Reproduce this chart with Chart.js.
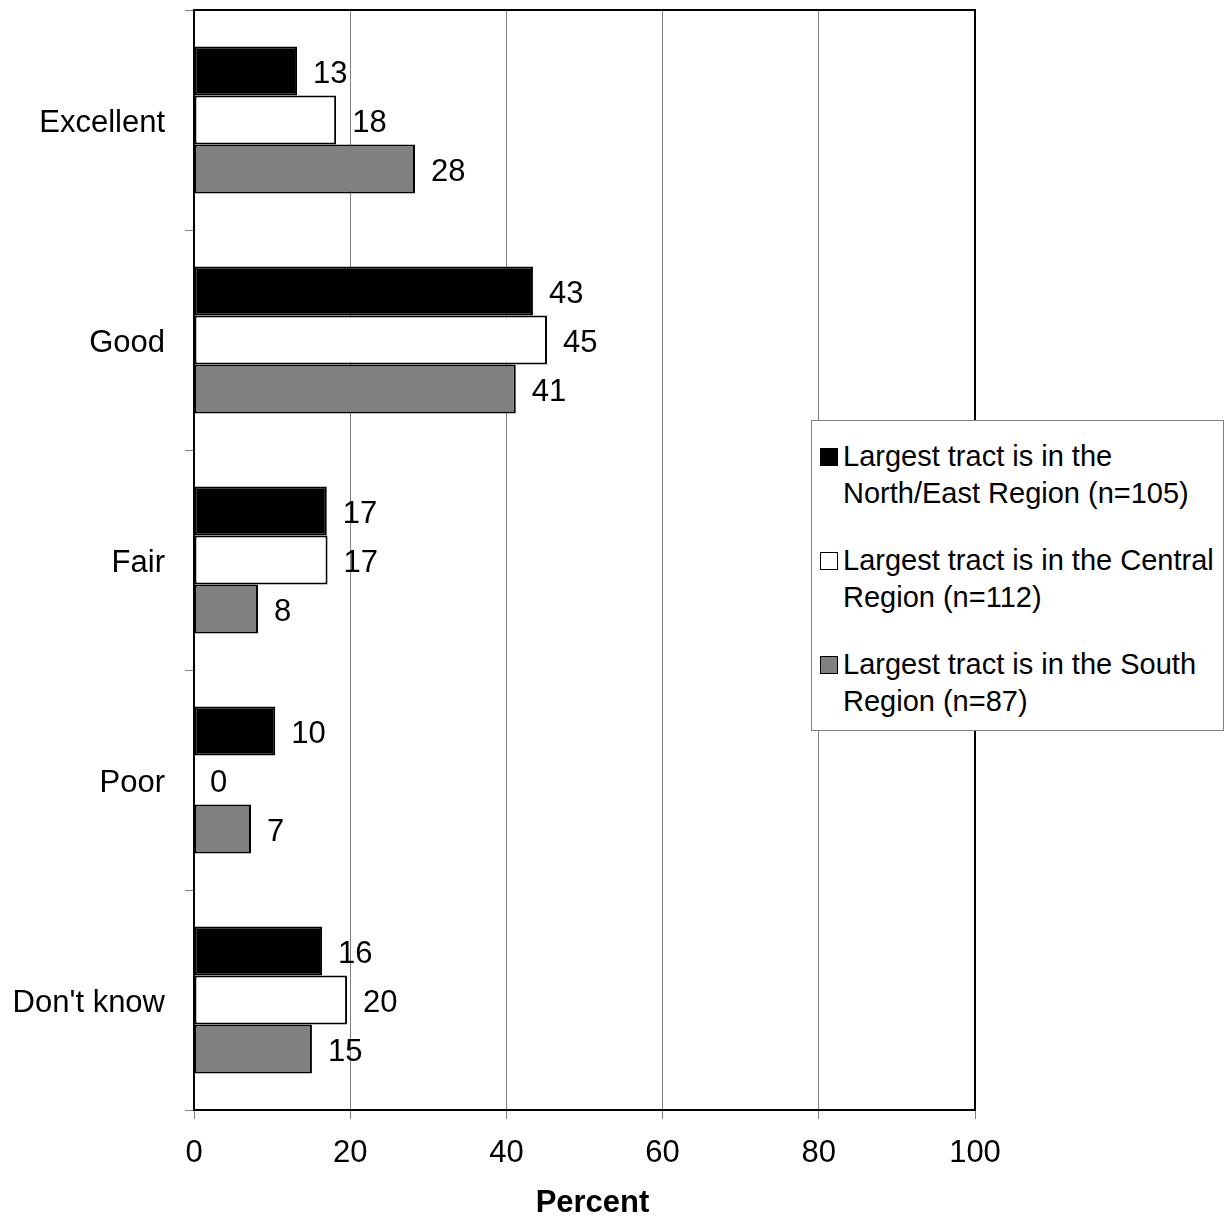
<!DOCTYPE html>
<html>
<head>
<meta charset="utf-8">
<script src="https://cdn.jsdelivr.net/npm/chart.js@4/dist/chart.umd.min.js"></script>
<style>
  body { margin: 0; background: #fff; }
  #wrap { position: relative; width: 1228px; height: 1220px; }
  #legend {
    position: absolute; left: 811px; top: 420px; width: 411px; height: 309px;
    background: #fff; border: 1px solid #808080;
    font-family: "Liberation Sans", Arial, sans-serif; font-size: 29px; line-height: 37px; color: #000;
  }
  .item { position: absolute; left: 31px; }
  .box { position: absolute; left: -23px; top: 10px; width: 16px; height: 16px; border: 1px solid #000; }
</style>
</head>
<body>
<div id="wrap">
  <canvas id="chart" width="1228" height="1220"></canvas>
  <div id="legend"></div>
</div>
<script>
// Chart data
const categories = ['Excellent', 'Good', 'Fair', 'Poor', "Don't know"];
const northEast = [13.2, 43.4, 17.0, 10.4, 16.4];
const central = [18.2, 45.2, 17.1, 0, 19.6];
const south = [28.3, 41.2, 8.2, 7.3, 15.1];
const seriesNames = [
    ['Largest tract is in the', 'North/East Region (n=105)'],
    ['Largest tract is in the Central', 'Region (n=112)'],
    ['Largest tract is in the South', 'Region (n=87)']
];
const seriesColors = ['#000000', '#ffffff', '#808080'];
const xTicks = [0, 20, 40, 60, 80, 100];
const xTitle = 'Percent';

const FONT = '"Liberation Sans", Arial, sans-serif';

// Value labels to the right of each bar
const valueLabels = {
    id: 'valueLabels',
    afterDatasetsDraw(chart) {
        const ctx = chart.ctx;
        ctx.save();
        ctx.font = '31px ' + FONT;
        ctx.fillStyle = '#000';
        ctx.textAlign = 'left';
        ctx.textBaseline = 'middle';
        chart.data.datasets.forEach((ds, i) => {
            chart.getDatasetMeta(i).data.forEach((bar, j) => {
                ctx.fillText(Math.round(ds.data[j]), bar.x + 16, bar.y + 3);
            });
        });
        ctx.restore();
    }
};

// Black frame round the plot area, plus the axis title
const plotFrame = {
    id: 'plotFrame',
    afterDatasetsDraw(chart) {
        const a = chart.chartArea;
        const ctx = chart.ctx;
        ctx.save();
        ctx.strokeStyle = '#000';
        ctx.lineWidth = 2;
        ctx.strokeRect(a.left, a.top, a.right - a.left, a.bottom - a.top);
        ctx.font = 'bold 31px ' + FONT;
        ctx.fillStyle = '#000';
        ctx.textAlign = 'center';
        ctx.textBaseline = 'middle';
        ctx.fillText(xTitle, (a.left + a.right) / 2 + 8, 1203);
        ctx.restore();
    }
};

const datasets = [northEast, central, south].map((d, i) => ({
    label: seriesNames[i].join(' '),
    data: d,
    backgroundColor: seriesColors[i],
    borderColor: '#000',
    borderWidth: 2,
    borderSkipped: false,
    categoryPercentage: 0.668,
    barPercentage: 1.0
}));

new Chart(document.getElementById('chart').getContext('2d'), {
    type: 'bar',
    data: { labels: categories, datasets: datasets },
    options: {
        indexAxis: 'y',
        responsive: false,
        animation: false,
        layout: { padding: { top: 10, right: 253, bottom: 0, left: 0 } },
        plugins: {
            legend: { display: false },
            tooltip: { enabled: false }
        },
        scales: {
            x: {
                min: 0,
                max: 100,
                afterFit: s => { s.height = 110; },
                afterBuildTicks: s => { s.ticks = xTicks.map(v => ({ value: v })); },
                border: { display: false },
                grid: { color: '#808080', lineWidth: 1, tickLength: 9, tickColor: '#808080' },
                ticks: { color: '#000', font: { family: FONT, size: 31 }, padding: 16, maxRotation: 0 }
            },
            y: {
                afterFit: s => { s.width = 194; s.paddingTop = 0; s.paddingBottom = 0; },
                border: { display: false },
                grid: { offset: true, drawOnChartArea: false, tickLength: 9, color: '#808080' },
                ticks: { color: '#000', font: { family: FONT, size: 31 }, padding: 20, labelOffset: 3 }
            }
        }
    },
    plugins: [valueLabels, plotFrame]
});

// HTML legend
const legend = document.getElementById('legend');
seriesNames.forEach((lines, i) => {
    const item = document.createElement('div');
    item.className = 'item';
    item.style.top = (17 + i * 104) + 'px';
    const box = document.createElement('span');
    box.className = 'box';
    box.style.background = seriesColors[i];
    item.appendChild(box);
    lines.forEach(t => {
        const line = document.createElement('div');
        line.textContent = t;
        item.appendChild(line);
    });
    legend.appendChild(item);
});
</script>
</body>
</html>
